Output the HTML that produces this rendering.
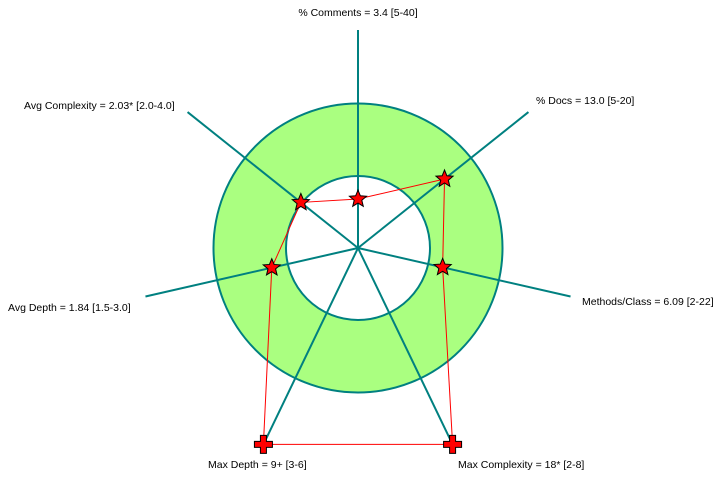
<!DOCTYPE html>
<html><head><meta charset="utf-8"><style>
body{margin:0;background:#fff;}
svg{display:block;font-family:"Liberation Sans",Arial,sans-serif;font-size:10.5px;}
</style></head><body>
<svg id="c" width="719" height="478">
<g id="rings"></g><g id="axes"></g><g id="lbls"></g><g id="poly"></g><g id="marks"></g>
</svg>
<script>
const labels=["% Comments = 3.4 [5-40]","% Docs = 13.0 [5-20]","Methods/Class = 6.09 [2-22]","Max Complexity = 18* [2-8]","Max Depth = 9+ [3-6]","Avg Depth = 1.84 [1.5-3.0]","Avg Complexity = 2.03* [2.0-4.0]"];
const values=[3.4,13.0,6.09,18,9,1.84,2.03];
const mins=[5,5,2,2,3,1.5,2.0];
const maxs=[40,20,22,8,6,3.0,4.0];
const NS="http://www.w3.org/2000/svg";
const cx=358,cy=248,R=218,rIn=72,rOut=144.5;
function mk(p,t,a){const e=document.createElementNS(NS,t);for(const k in a)e.setAttribute(k,a[k]);document.getElementById(p).appendChild(e);return e;}
function ang(i){return (-90+i*360/7)*Math.PI/180;}
function over(i){return values[i]>maxs[i];}
function radius(i){const v=values[i];if(v<mins[i])return v/mins[i]*rIn;if(over(i))return R;return rIn+(v-mins[i])/(maxs[i]-mins[i])*(rOut-rIn);}
function pt(i,r){return [cx+r*Math.cos(ang(i)),cy+r*Math.sin(ang(i))];}
let e=mk("rings","circle",{cx,cy,r:rOut,fill:"#aaff80",stroke:"#008080","stroke-width":2});

e=mk("rings","circle",{cx,cy,r:rIn,fill:"#fff",stroke:"#008080","stroke-width":2});

const lpos=[[358,16,"middle"],[536,104,"start"],[582,305,"start"],[458,468,"start"],[208,468,"start"],[8,311,"start"],[24,109,"start"]];
const pts=[];
for(let i=0;i<7;i++){
 const [x,y]=pt(i,R);
 e=mk("axes","line",{x1:cx,y1:cy,x2:x,y2:y,stroke:"#008080","stroke-width":2});
 
 e=mk("lbls","text",{x:lpos[i][0],y:lpos[i][1],"text-anchor":lpos[i][2],fill:"#000"});
 e.textContent=labels[i];
 
 pts.push(pt(i,radius(i)));
}
e=mk("poly","polygon",{points:pts.map(p=>p.join(",")).join(" "),fill:"none",stroke:"#ff0000","stroke-width":1});

function star(x,y){let s="";for(let k=0;k<10;k++){const a=(-90+k*36)*Math.PI/180,r=k%2?4:9;s+=(x+r*Math.cos(a))+","+(y+r*Math.sin(a))+" ";}return s;}
for(let i=0;i<7;i++){
 const [x,y]=pts[i];
 if(over(i)){
  e=mk("marks","path",{d:`M${x-3},${y-9}h6v6h6v6h-6v6h-6v-6h-6v-6h6z`,fill:"#ff0000",stroke:"#000","stroke-width":1});
 }else{
  e=mk("marks","polygon",{points:star(x,y),fill:"#ff0000",stroke:"#000","stroke-width":1});
 }
 
}
</script>
</body></html>
